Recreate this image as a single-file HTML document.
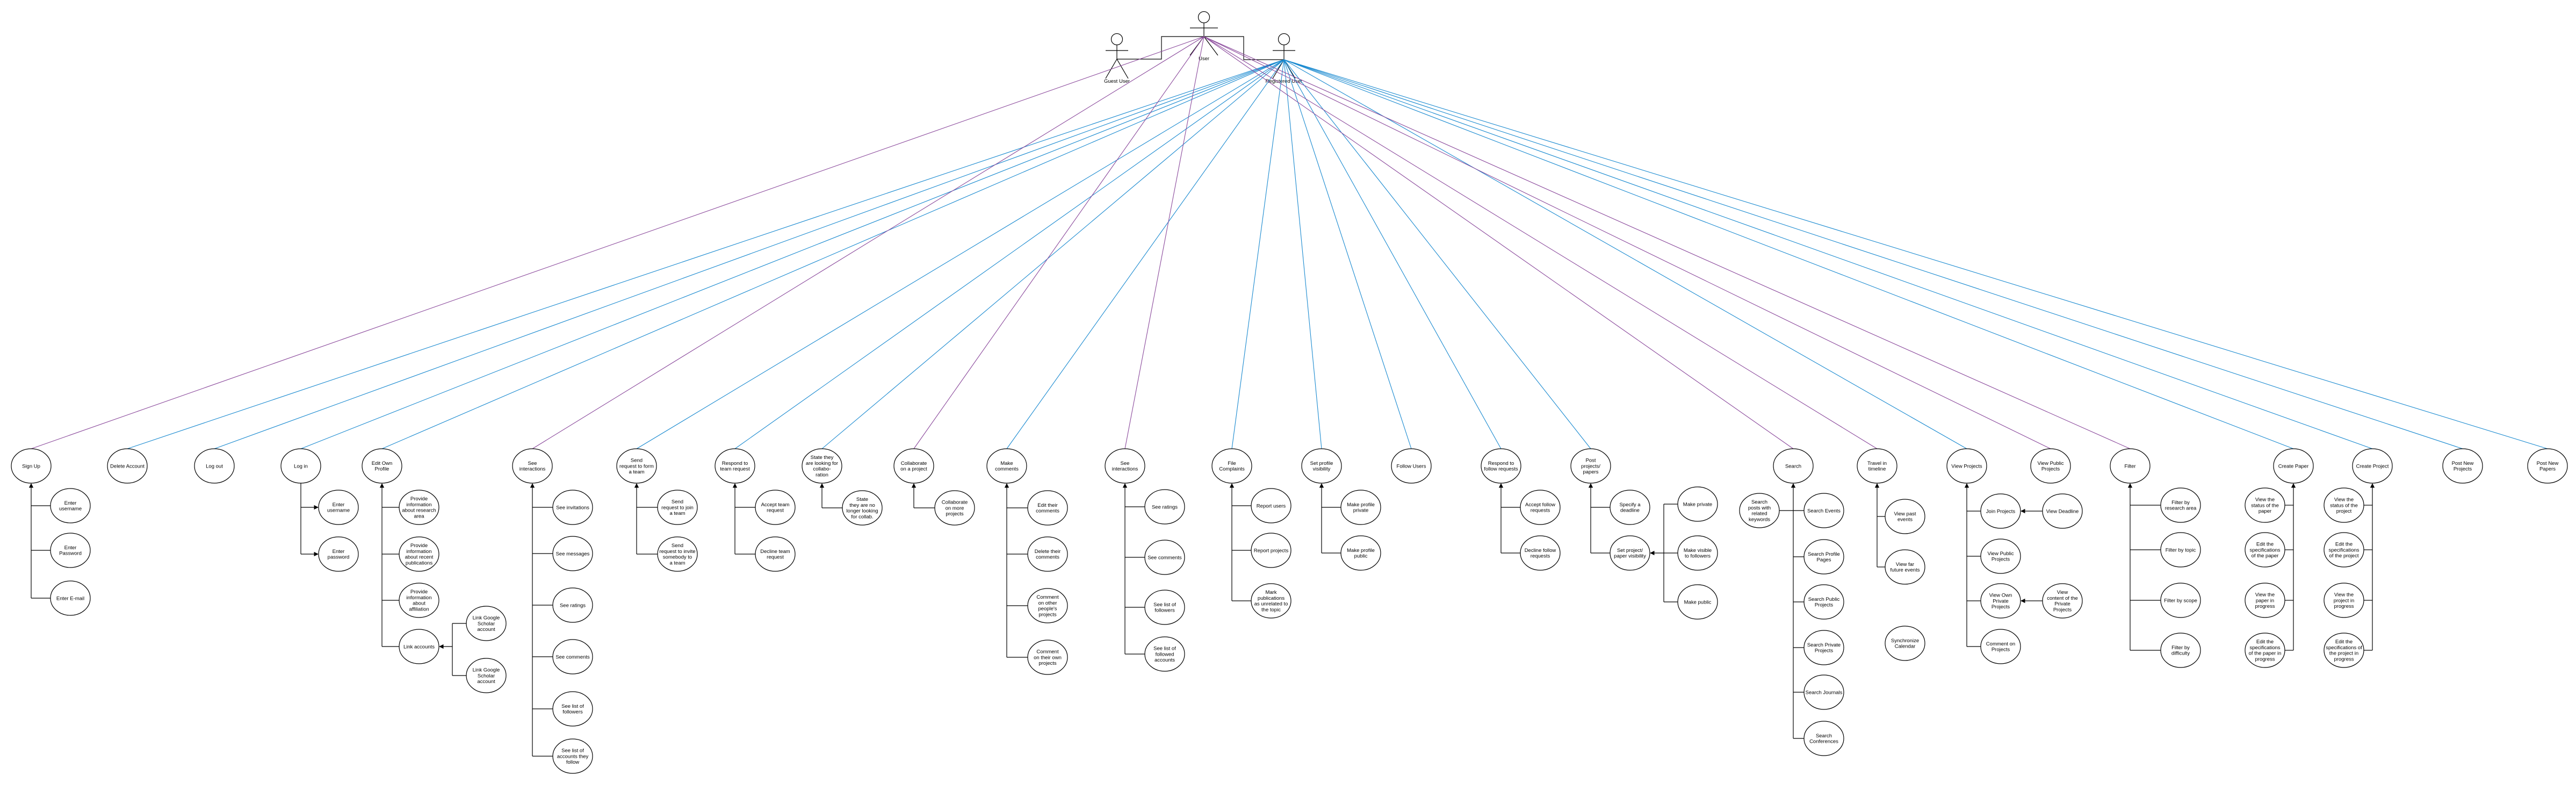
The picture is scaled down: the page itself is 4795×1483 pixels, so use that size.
<!DOCTYPE html>
<html><head><meta charset="utf-8"><style>
html,body{margin:0;padding:0;background:#fff;width:4795px;height:1483px;overflow:hidden}
svg text{font-family:"Liberation Sans",sans-serif;font-size:9.5px;fill:#000}
</style></head><body>
<svg id="d" width="4795" height="1483" viewBox="0 0 4795 1483" xmlns="http://www.w3.org/2000/svg">
<defs><marker id="ar" viewBox="0 0 10 10" refX="9" refY="5" markerWidth="7" markerHeight="7" orient="auto"><path d="M0,0L10,5L0,10z" fill="#000"/></marker></defs>
<g stroke="#000" stroke-width="1.2" fill="none">
<circle cx="2079" cy="73" r="10.5"/><line x1="2079" y1="83.5" x2="2079" y2="110"/><line x1="2058" y1="94" x2="2100" y2="94"/><line x1="2079" y1="110" x2="2058" y2="146"/><line x1="2079" y1="110" x2="2100" y2="146"/></g>
<text x="2079" y="154" text-anchor="middle">Guest User</text>
<g stroke="#000" stroke-width="1.2" fill="none">
<circle cx="2241" cy="32" r="10.5"/><line x1="2241" y1="42.5" x2="2241" y2="68"/><line x1="2215" y1="52" x2="2267" y2="52"/><line x1="2241" y1="68" x2="2215" y2="103"/><line x1="2241" y1="68" x2="2267" y2="103"/></g>
<text x="2241" y="112" text-anchor="middle">User</text>
<g stroke="#000" stroke-width="1.2" fill="none">
<circle cx="2390" cy="73" r="10.5"/><line x1="2390" y1="83.5" x2="2390" y2="111"/><line x1="2369" y1="94" x2="2411" y2="94"/><line x1="2390" y1="111" x2="2369" y2="146"/><line x1="2390" y1="111" x2="2411" y2="146"/></g>
<text x="2390" y="154" text-anchor="middle">Registered User</text>
<polyline points="2079,110 2162,110 2162,68 2315,68 2315,111 2390,111" fill="none" stroke="#000" stroke-width="1.2"/>
<g id="assoc"></g><g id="conn"></g><g id="nodes"></g>
</svg>
<script>
const topLabels=["Sign Up","Delete Account","Log out","Log in","Edit Own\nProfile","See\ninteractions","Send\nrequest to form\na team","Respond to\nteam request","State they\nare looking for\ncollabo-\nration","Collaborate\non a project","Make\ncomments","See\ninteractions","File\nComplaints","Set profile\nvisibility","Follow Users","Respond to\nfollow requests","Post\nprojects/\npapers","Search","Travel in\ntimeline","View Projects","View Public\nProjects","Filter","Create Paper","Create Project","Post New\nProjects","Post New\nPapers"];
const topX=[58,237,399,560,711,991,1185,1368,1530,1701,1874,2094,2293,2460,2627,2794,2961,3338,3494,3661,3817,3965,4269,4416,4584,4742];
const topActor=["U","R","R","R","R","U","R","R","R","U","R","U","R","R","R","R","R","U","U","R","U","U","R","R","R","R"];
const TOPY=867,RX=37,RY=32;
// groups: parent index, child x, arrow mode, children labels, child y
const groups=[
 [0,131,"up",["Enter\nusername","Enter\nPassword","Enter E-mail"],[941,1024,1113]],
 [3,630,"down",["Enter\nusername","Enter\npassword"],[944,1031]],
 [4,780,"up",["Provide\ninformation\nabout research\narea","Provide\ninformation\nabout recent\npublications","Provide\ninformation\nabout\naffiliation","Link accounts"],[944,1031,1117,1203]],
 [5,1066,"up",["See invitations","See messages","See ratings","See comments","See list of\nfollowers","See list of\naccounts they\nfollow"],[944,1030,1126,1222,1319,1407]],
 [6,1261,"up",["Send\nrequest to join\na team","Send\nrequest to invite\nsomebody to\na team"],[944,1031]],
 [7,1443,"up",["Accept team\nrequest","Decline team\nrequest"],[944,1031]],
 [8,1605,"up",["State\nthey are no\nlonger looking\nfor collab."],[945]],
 [9,1777,"up",["Collaborate\non more\nprojects"],[945]],
 [10,1950,"up",["Edit their\ncomments","Delete their\ncomments","Comment\non other\npeople's\nprojects","Comment\non their own\nprojects"],[945,1031,1127,1223]],
 [11,2168,"up",["See ratings","See comments","See list of\nfollowers","See list of\nfollowed\naccounts"],[943,1037,1130,1217]],
 [12,2366,"up",["Report users","Report projects","Mark\npublications\nas unrelated to\nthe topic"],[941,1024,1118]],
 [13,2533,"up",["Make profile\nprivate","Make profile\npublic"],[944,1029]],
 [15,2867,"up",["Accept follow\nrequests","Decline follow\nrequests"],[944,1029]],
 [16,3034,"up",["Specify a\ndeadline","Set project/\npaper visibility"],[944,1029]],
 [17,3395,"up",["Search Events","Search Profile\nPages","Search Public\nProjects","Search Private\nProjects","Search Journals","Search\nConferences"],[950,1036,1120,1205,1288,1374]],
 [18,3546,"up",["View past\nevents","View far\nfuture events"],[961,1055]],
 [19,3724,"up",["Join Projects","View Public\nProjects","View Own\nPrivate\nProjects","Comment on\nProjects"],[951,1035,1118,1203]],
 [21,4059,"up",["Filter by\nresearch area","Filter by topic","Filter by scope","Filter by\ndifficulty"],[940,1023,1117,1210]],
 [22,4216,"up",["View the\nstatus of the\npaper","Edit the\nspecifications\nof the paper","View the\npaper in\nprogress","Edit the\nspecifications\nof the paper in\nprogress"],[940,1023,1117,1210]],
 [23,4363,"up",["View the\nstatus of the\nproject","Edit the\nspecifications\nof the project","View the\nproject in\nprogress","Edit the\nspecifications of\nthe project in\nprogress"],[940,1023,1117,1210]]
];
// side includes: [target x, target y, trunk x, labels, xs, ys]
const sideGroups=[
 [780,1203,842,["Link Google\nScholar\naccount","Link Google\nScholar\naccount"],[905,905],[1160,1257]],
 [3034,1029,3097,["Make private","Make visible\nto followers","Make public"],[3160,3160,3160],[938,1029,1120]],
 [3724,951,3800,["View Deadline"],[3839],[951]],
 [3724,1118,3800,["View\ncontent of the\nPrivate\nProjects"],[3839],[1118]]
];
const NS="http://www.w3.org/2000/svg";
const gA=document.getElementById('assoc'),gC=document.getElementById('conn'),gN=document.getElementById('nodes');
function mk(t,a,p){const e=document.createElementNS(NS,t);for(const k in a)e.setAttribute(k,a[k]);p.appendChild(e);return e;}
function slug(s){return s.toLowerCase().replace(/[^a-z0-9]+/g,'-').replace(/^-|-$/g,'');}
function node(label,x,y){
 const g=mk('g',{},gN);
 
 
 mk('ellipse',{cx:x,cy:y,rx:RX,ry:RY,fill:'#fff',stroke:'#000','stroke-width':1.2},g);
 const lines=label.split('\n'),lh=10.8,y0=y-(lines.length-1)*lh/2+3.3;
 const t=mk('text',{x:x,'text-anchor':'middle'},g);
 lines.forEach((l,i)=>{const s=mk('tspan',{x:x,y:y0+i*lh},t);s.textContent=l;});
}
function line(x1,y1,x2,y2,c,extra){const a={x1,y1,x2,y2,stroke:c||'#000','stroke-width':1.2};if(extra)Object.assign(a,extra);const l=mk('line',a,gC);
 
 return l;}
topX.forEach((x,i)=>{
 const u=topActor[i]==="U";
 const l=mk('line',{x1:u?2241:2390,y1:u?68:111,x2:x,y2:TOPY-RY,stroke:u?'#8b4a9c':'#1a8ad0','stroke-width':1.1},gA);
 
 
 node(topLabels[i],x,TOPY);
});
groups.forEach(([pi,cx,mode,labels,ys])=>{
 const px=topX[pi],last=ys[ys.length-1];
 if(mode==="up"){line(px,last,px,TOPY+RY+1,'#000',{'marker-end':'url(#ar)'});}
 else line(px,TOPY+RY,px,last);
 labels.forEach((lb,j)=>{
  const edge=cx>px?cx-RX:cx+RX;
  if(mode==="down")line(px,ys[j],edge-1,ys[j],'#000',{'marker-end':'url(#ar)'});
  else line(px,ys[j],edge,ys[j]);
  node(lb,cx,ys[j]);
 });
});
sideGroups.forEach(([tx,ty,trunk,labels,xs,ys])=>{
 const ymin=Math.min(ty,...ys),ymax=Math.max(ty,...ys);
 if(ymax>ymin)line(trunk,ymin,trunk,ymax);
 const edge=trunk>tx?tx+RX+1:tx-RX-1;
 line(trunk,ty,edge,ty,'#000',{'marker-end':'url(#ar)'});
 labels.forEach((lb,j)=>{line(trunk,ys[j],xs[j]-RX,ys[j]);node(lb,xs[j],ys[j]);});
});
line(3312,950,3338,950);
node("Search\nposts with\nrelated\nkeywords",3275,950);
node("Synchronize\nCalendar",3546,1197);
</script>
</body></html>
